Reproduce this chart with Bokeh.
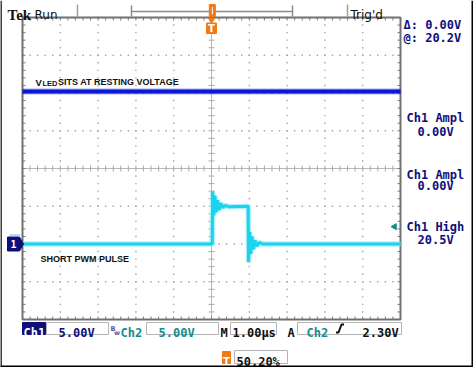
import numpy as np
from bokeh.plotting import figure
from bokeh.models import Range1d
from bokeh.core.properties import value
from bokeh.embed import file_html
from bokeh.resources import INLINE

# ---------------- data ----------------
time_per_div_us = 1.00
ch1_volts_per_div = 5.00
ch2_volts_per_div = 5.00
ch1_ground_div = -2.0
ch2_ground_div = -2.0
trigger_level_v = 2.30
trigger_position_pct = 50.20

ch1_time_us = [-5.0, 5.0]
ch1_volts = [20.2, 20.2]

ch2_time_us = [-5.0, 0.02, 0.03, 0.06, 0.09, 0.12, 0.16, 0.20, 0.25, 0.30, 0.36, 0.45,
               0.97, 0.98, 1.01, 1.04, 1.07, 1.11, 1.15, 1.20, 1.26, 1.35, 5.0]
ch2_volts = [0.0, 0.0, 7.0, 3.8, 6.4, 4.2, 5.8, 4.5, 5.4, 4.8, 5.1, 4.95,
             5.0, -2.4, 1.6, -1.3, 1.0, -0.7, 0.5, -0.3, 0.2, 0.0, 0.0]

cursor_texts = ["\u0394: 0.00V", "@: 20.2V"]
meas_names = ["Ch1 Ampl", "Ch1 Ampl", "Ch1 High"]
meas_values = ["0.00V", "0.00V", "20.5V"]
ch1_scale_text = "5.00V"
ch2_scale_text = "5.00V"
time_scale_text = "1.00\u00b5s"
trig_source_text = "Ch2"
trig_level_text = "2.30V"
note_top = " SITS AT RESTING VOLTAGE"
note_bottom = "SHORT PWM PULSE"

# ---------------- screen geometry ----------------
W, H = 473, 367
GL, GR, GT, GB = 22, 400, 17, 319          # graticule edges (px)
CX, CY = (GL + GR) / 2, (GT + GB) / 2
SX, SY = (GR - GL) / 10.0, (GB - GT) / 8.0  # px per division


def X(px):
    return (px - CX) / SX


def Y(py):
    return (CY - py) / SY


NAVY = "#0f0f7c"
TEAL = "#138c8c"
ORANGE = "#f07a16"
BLUE = "#0a18d6"
CYAN = "#19d4ec"
MONO = "DejaVu Sans Mono"

p = figure(width=W, height=H, x_range=Range1d(X(0), X(W)), y_range=Range1d(Y(H), Y(0)),
           toolbar_location=None, output_backend="svg", min_border=0,
           x_axis_location=None, y_axis_location=None,
           background_fill_color="white", border_fill_color="white",
           outline_line_color=None)
p.grid.visible = False


def txt(px, pyb, s, color="#111111", size=12, font=MONO, style="bold", align="left"):
    p.text(x=[X(px)], y=[Y(pyb)], text=[s], text_color=color, text_font=value(font),
           text_font_size=f"{size}px", text_font_style=style,
           text_baseline="alphabetic", text_align=align)


def box(l, r, t, b, fill=None, line="#b4b4b4", lw=1):
    p.quad(left=[X(l)], right=[X(r)], top=[Y(t)], bottom=[Y(b)],
           fill_color=fill, line_color=line, line_width=lw)


def seg(x0, y0, x1, y1, color="#999999", lw=1.0):
    p.segment(x0=[X(x0)], y0=[Y(y0)], x1=[X(x1)], y1=[Y(y1)], line_color=color, line_width=lw)


# ---------------- graticule ----------------
sub = np.round(np.arange(-5, 5.001, 0.2), 3)
suby = np.round(np.arange(-4, 4.001, 0.2), 3)
dx, dy = [], []
for k in range(-4, 5):
    if k == 0:
        continue
    dx += [k] * len(suby)
    dy += list(suby)
for m in range(-3, 4):
    if m == 0:
        continue
    dx += list(sub)
    dy += [m] * len(sub)
p.scatter(dx, dy, marker="square", size=1.4, fill_color="#a4a4a4", line_color=None)

# centre cross with sub-ticks
p.segment(x0=[0, -5], y0=[-4, 0], x1=[0, 5], y1=[4, 0], line_color="#b8b8b8", line_width=1)
tlx, tly = 3.0 / SX, 3.0 / SY
p.segment(x0=list(sub), y0=[-tly] * len(sub), x1=list(sub), y1=[tly] * len(sub),
          line_color="#aaaaaa", line_width=1)
p.segment(x0=[-tlx] * len(suby), y0=list(suby), x1=[tlx] * len(suby), y1=list(suby),
          line_color="#aaaaaa", line_width=1)
# edge ticks
p.segment(x0=list(sub), y0=[4] * len(sub), x1=list(sub), y1=[4 - tly] * len(sub),
          line_color="#7a7a7a", line_width=1)
p.segment(x0=list(sub), y0=[-4] * len(sub), x1=list(sub), y1=[-4 + tly] * len(sub),
          line_color="#7a7a7a", line_width=1)
p.segment(x0=[-5] * len(suby), y0=list(suby), x1=[-5 + tlx] * len(suby), y1=list(suby),
          line_color="#7a7a7a", line_width=1)
p.segment(x0=[5] * len(suby), y0=list(suby), x1=[5 - tlx] * len(suby), y1=list(suby),
          line_color="#7a7a7a", line_width=1)
p.quad(left=[-5], right=[5], bottom=[-4], top=[4], fill_color=None,
       line_color="#707070", line_width=2)

# ---------------- traces ----------------
ch1_x = [t / time_per_div_us for t in ch1_time_us]
ch1_y = [ch1_ground_div + v / ch1_volts_per_div for v in ch1_volts]
ch2_x = [t / time_per_div_us for t in ch2_time_us]
ch2_y = [ch2_ground_div + v / ch2_volts_per_div for v in ch2_volts]

p.line(ch1_x, ch1_y, line_color=BLUE, line_width=6, line_alpha=0.35)
p.line(ch1_x, ch1_y, line_color=BLUE, line_width=4)
p.line(ch2_x, ch2_y, line_color="#8feaf6", line_width=5.5, line_alpha=0.7)
p.line(ch2_x, ch2_y, line_color=CYAN, line_width=3)

# ---------------- in-graticule notes ----------------
txt(35, 81.5, "V", size=9.5, font="Liberation Sans")
txt(42, 83, "LED", size=7.5, font="Liberation Sans")
txt(57.5, 81.5, note_top, size=9, font="Liberation Sans")
txt(40, 258.5, note_bottom, size=9, font="Liberation Sans")

# ---------------- channel / trigger markers ----------------
gy = ch1_ground_div
hh = 7.0 / SY
p.patch([X(7), X(19), X(23), X(19), X(7)], [gy + hh, gy + hh, gy, gy - hh, gy - hh],
        fill_color=NAVY, line_color=NAVY)
p.text(x=[X(13)], y=[gy], text=["1"], text_color="white", text_font=value(MONO),
       text_font_style="bold", text_font_size="10px", text_align="center", text_baseline="middle")
seg(9, 234.5, 20, 234.5, color="#5fc8cc", lw=1)

trig_y = ch2_ground_div + trigger_level_v / ch2_volts_per_div
p.scatter([X(394)], [trig_y], marker="triangle", angle=np.pi / 2, size=6,
          fill_color=TEAL, line_color=TEAL)

# trigger position marker at top of graticule
p.scatter([0], [Y(19.5)], marker="inverted_triangle", size=6, fill_color=ORANGE, line_color=ORANGE)
box(206, 216, 22.5, 33, fill=ORANGE, line=ORANGE)
p.text(x=[0], y=[Y(28)], text=["T"], text_color="white", text_font=value("DejaVu Sans"),
       text_font_style="bold", text_font_size="10px", text_align="center", text_baseline="middle")

# ---------------- top status line ----------------
txt(7, 14.5, "Tek", size=15, font="Liberation Serif")
txt(34, 14, "Run", size=12, font="DejaVu Sans", style="normal")
seg(77, 4, 77, 16, color="#a0a0a0", lw=1.5)
seg(347, 4, 347, 16, color="#a0a0a0", lw=1.5)
txt(350, 14, "Trig'd", size=12, font="DejaVu Sans", style="normal")
bl, br = 131, 292
seg(bl, 11, br, 11, color="#8c8c8c", lw=1.5)
seg(bl, 5, bl, 16, color="#8c8c8c", lw=1.5)
seg(br, 5, br, 16, color="#8c8c8c", lw=1.5)
tb = bl + (br - bl) * trigger_position_pct / 100.0
box(tb - 3, tb + 3, 4, 16, fill=ORANGE, line=ORANGE)
seg(tb, 6.5, tb, 14, color="white", lw=1)

# ---------------- right readouts ----------------
txt(403, 24.5, cursor_texts[0], color=NAVY)
txt(403, 37.5, cursor_texts[1], color=NAVY)
for (ny, vy), nm, vl in zip([(117, 131), (174, 185), (226, 239.5)], meas_names, meas_values):
    txt(406, ny, nm, color=NAVY)
    txt(417, vy, vl, color=NAVY)

# ---------------- bottom status line ----------------
box(22, 45, 322, 334, fill=NAVY, line=NAVY)
txt(23, 332, "Ch1", color="white")
box(46, 108, 322, 334)
txt(58, 332, ch1_scale_text, color=NAVY)
txt(110, 328, "B", color="#55559a", size=6.5, font="DejaVu Sans")
txt(113.5, 332, "w", color="#55559a", size=6.5, font="DejaVu Sans")
txt(120, 332, "Ch2", color=TEAL)
box(146, 218, 322, 334)
txt(158, 332, ch2_scale_text, color=TEAL)
txt(220, 332, "M", color="#111111")
box(230, 276, 322, 334)
txt(232, 332, time_scale_text, color="#111111")
txt(287, 332, "A", color="#111111")
box(297, 401, 322, 334)
txt(306, 332, trig_source_text, color=TEAL)
p.line([X(335.5), X(338), X(341), X(343.5)], [Y(332), Y(332), Y(324), Y(324)],
       line_color="#111111", line_width=2)
txt(362, 332, trig_level_text, color="#111111")

box(222, 230, 351, 363, fill=ORANGE, line=ORANGE)
txt(226, 361, "T", color="white", size=10, font="DejaVu Sans", align="center")
box(234, 287, 350, 363)
txt(236, 361, f"{trigger_position_pct:.2f}%", color="#111111")

# ---------------- outer frame ----------------
seg(0.5, 0, 0.5, H, color="black", lw=1.5)
seg(472, 0, 472, H, color="black", lw=2)
seg(0, 366, W, 366, color="black", lw=2)

open("out.html", "w").write(file_html(p, INLINE))
